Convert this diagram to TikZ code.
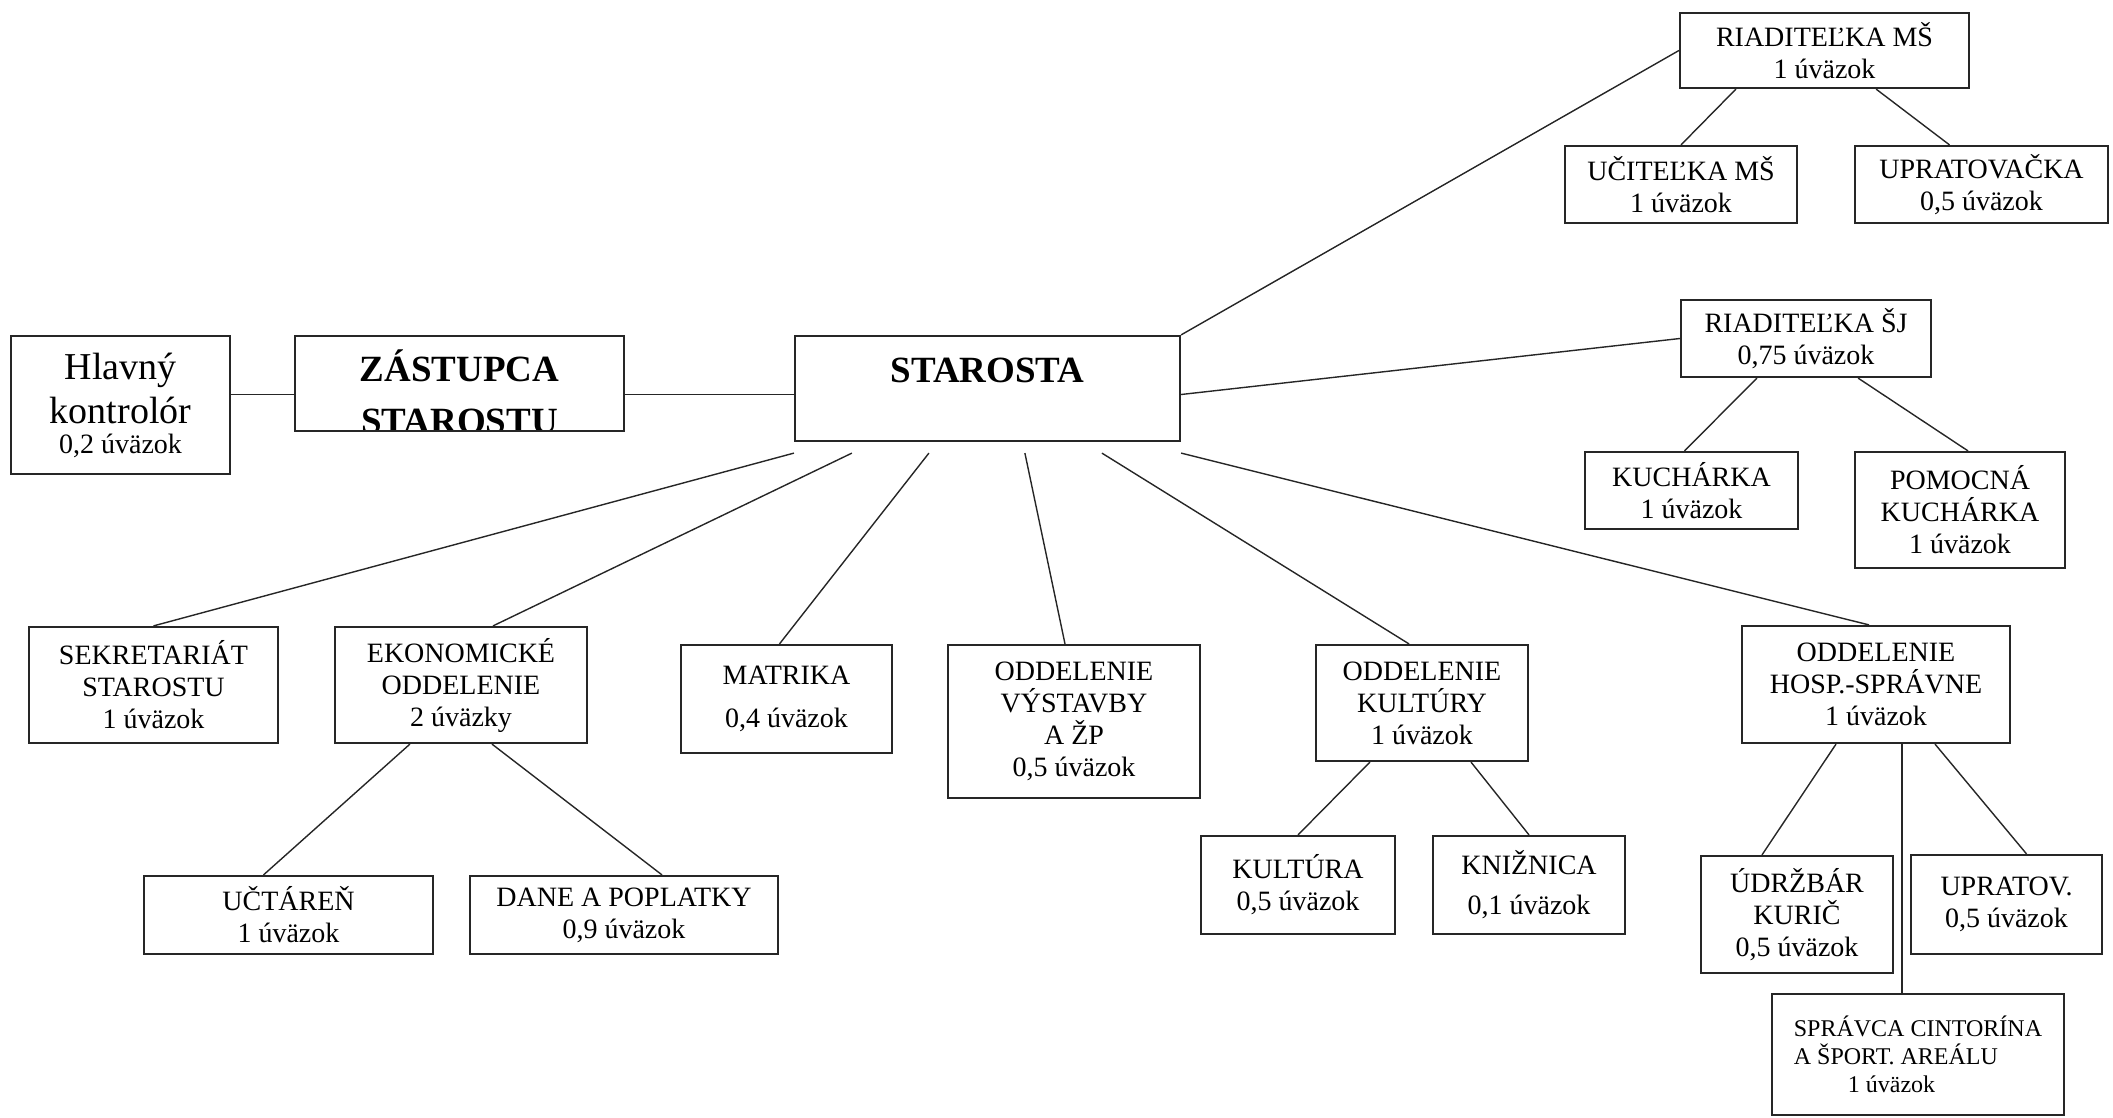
\documentclass[tikz,border=0pt]{standalone}
\usepackage{fontspec}
\setmainfont{Liberation Serif}
\tikzstyle{unit}=[draw=black!85, line width=2.2pt, align=center, inner sep=0pt, font=\fontsize{28}{32}\selectfont]
\tikzstyle{bigunit}=[unit, font=\fontsize{38}{44}\selectfont]
\tikzstyle{cut}=[draw=none, minimum width=0pt, minimum height=0pt, inner sep=0pt, anchor=base, font=\fontsize{37}{44}\selectfont\bfseries]
\tikzstyle{link}=[draw=black!85, line width=1.4pt]

\begin{document}
\begin{tikzpicture}[x=1pt, y=-1pt]
  \useasboundingbox (0,0) rectangle (2113,1117);
  % top row
  \node[bigunit, minimum width=219pt, minimum height=138pt] (hlavny) at (120.5,405) {Hlavný\\kontrolór\\[-14pt]{\fontsize{28}{32}\selectfont 0,2 úväzok}};
  \node[bigunit, minimum width=329pt, minimum height=95pt, path picture={
      \path (path picture bounding box.north) ++(0,45) node[cut] {ZÁSTUPCA}
            ++(0,52) node[cut] {STAROSTU};}] (zast) at (459.5,383.5) {};
  \node[bigunit, font=\fontsize{37}{44}\selectfont\bfseries, minimum width=385pt, minimum height=105pt, text depth=36pt] (staro) at (987.5,388.5) {STAROSTA};
  % school and kitchen
  \node[unit, minimum width=289pt, minimum height=75pt] (mrs) at (1824.5,50.5) {RIADITEĽKA MŠ\\1 úväzok};
  \node[unit, minimum width=232pt, minimum height=77pt] (ucitelka) at (1681,184.5) {UČITEĽKA MŠ\\1 úväzok};
  \node[unit, minimum width=253pt, minimum height=77pt] (upratovacka) at (1981.5,184.5) {UPRATOVAČKA\\0,5 úväzok};
  \node[unit, minimum width=250pt, minimum height=77pt] (rsj) at (1806,338.5) {RIADITEĽKA ŠJ\\0,75 úväzok};
  \node[unit, minimum width=213pt, minimum height=77pt] (kucharka) at (1691.5,490.5) {KUCHÁRKA\\1 úväzok};
  \node[unit, minimum width=210pt, minimum height=116pt] (pomocna) at (1960,510) {POMOCNÁ\\KUCHÁRKA\\1 úväzok};
  % departments
  \node[unit, minimum width=249pt, minimum height=116pt] (sekr) at (153.5,685) {SEKRETARIÁT\\STAROSTU\\1 úväzok};
  \node[unit, minimum width=252pt, minimum height=116pt] (ekon) at (461,685) {EKONOMICKÉ\\ODDELENIE\\2 úväzky};
  \node[unit, minimum width=211pt, minimum height=108pt] (matrika) at (786.5,699) {MATRIKA\\[11pt]0,4 úväzok};
  \node[unit, minimum width=252pt, minimum height=153pt] (vystavba) at (1074,721.5) {ODDELENIE\\VÝSTAVBY\\A ŽP\\0,5 úväzok};
  \node[unit, minimum width=212pt, minimum height=116pt] (kultury) at (1422,703) {ODDELENIE\\KULTÚRY\\1 úväzok};
  \node[unit, minimum width=268pt, minimum height=117pt] (hosp) at (1876,684.5) {ODDELENIE\\HOSP.-SPRÁVNE\\1 úväzok};
  % bottom row
  \node[unit, minimum width=289pt, minimum height=78pt] (uctaren) at (288.5,915) {UČTÁREŇ\\1 úväzok};
  \node[unit, minimum width=308pt, minimum height=78pt] (dane) at (624,915) {DANE A POPLATKY\\0,9 úväzok};
  \node[unit, minimum width=194pt, minimum height=98pt] (kultura) at (1298,885) {KULTÚRA\\0,5 úväzok};
  \node[unit, minimum width=192pt, minimum height=98pt] (kniznica) at (1529,885) {KNIŽNICA\\[8pt]0,1 úväzok};
  \node[unit, minimum width=192pt, minimum height=117pt] (udrzbar) at (1797,914.5) {ÚDRŽBÁR\\KURIČ\\0,5 úväzok};
  \node[unit, minimum width=191pt, minimum height=99pt] (upratov) at (2006.5,904.5) {UPRATOV.\\0,5 úväzok};
  \node[unit, align=left, font=\fontsize{24}{28}\selectfont, minimum width=292pt, minimum height=121pt] (spravca) at (1918,1054.5) {SPRÁVCA CINTORÍNA\\A ŠPORT. AREÁLU\\\hspace*{54pt}1 úväzok};

  % connectors
  \coordinate (axis) at ([yshift=-6pt]staro.west);
  \path[link] (hlavny.east |- axis) edge (zast.west |- axis)
              (zast.east |- axis) edge (staro.west |- axis)
              (staro.east |- axis) edge (rsj.west)
              (staro.north east) edge (mrs.west);
  \path[link] ([yshift=-11pt]staro.south west) edge (sekr.north)
              ([xshift=58pt,yshift=-11pt]staro.south west) edge ([xshift=32pt]ekon.north)
              ([xshift=135pt,yshift=-11pt]staro.south west) edge ([xshift=-7pt]matrika.north)
              ([xshift=231pt,yshift=-11pt]staro.south west) edge ([xshift=-9pt]vystavba.north)
              ([xshift=308pt,yshift=-11pt]staro.south west) edge ([xshift=-13pt]kultury.north)
              ([yshift=-11pt]staro.south east) edge ([xshift=-7pt]hosp.north);
  \path[link] ([xshift=57pt]mrs.south west) edge (ucitelka.north)
              ([xshift=-94pt]mrs.south east) edge ([xshift=-32pt]upratovacka.north)
              ([xshift=77pt]rsj.south west) edge ([xshift=-7pt]kucharka.north)
              ([xshift=-74pt]rsj.south east) edge ([xshift=8pt]pomocna.north);
  \path[link] ([xshift=76pt]ekon.south west) edge ([xshift=-25pt]uctaren.north)
              ([xshift=31pt]ekon.south) edge ([xshift=38pt]dane.north)
              ([xshift=55pt]kultury.south west) edge (kultura.north)
              ([xshift=49pt]kultury.south) edge (kniznica.north)
              ([xshift=-40pt]hosp.south) edge ([xshift=-35pt]udrzbar.north)
              ([xshift=59pt]hosp.south) edge ([xshift=20pt]upratov.north);
  \coordinate (hs) at ([xshift=26pt]hosp.south);
  \path[link] (hs) edge (hs |- spravca.north);
\end{tikzpicture}
\end{document}
